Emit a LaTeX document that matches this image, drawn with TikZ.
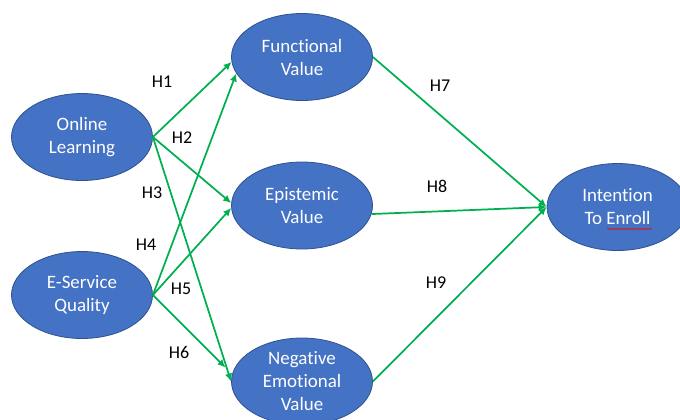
\documentclass[tikz,border=0pt]{standalone}
\usepackage{fontspec}
\setmainfont{Carlito}[Ligatures=NoCommon]
\usetikzlibrary{shapes.geometric,arrows.meta,decorations.pathmorphing}
\definecolor{ovalblue}{HTML}{4472C4}
\definecolor{ovalline}{HTML}{2F528F}
\definecolor{pathgreen}{HTML}{00B050}
\tikzset{
  construct/.style={ellipse, fill=ovalblue, draw=ovalline, line width=0.6pt,
    minimum width=105.75pt, minimum height=65.25pt, inner sep=0pt,
    text=white, align=center, font=\fontsize{14.2}{17.25}\selectfont},
  hyp/.style={pathgreen, line width=1.3pt, -{Latex[length=6pt,width=5.5pt]}},
  hlabel/.style={font=\fontsize{13.5}{16}\selectfont, inner sep=0pt}
}
\begin{document}
\begin{tikzpicture}[x=0.75pt, y=-0.75pt]
\useasboundingbox (0,0) rectangle (680,419);
\clip (0,0) rectangle (680,419);
% constructs
\node[construct] (ol) at (82,137) {Online\\Learning};
\node[construct] (esq) at (82,295) {E-Service\\Quality};
\node[construct] (fv) at (302,57) {Functional\\Value};
\node[construct] (ev) at (302,205.5) {Epistemic\\Value};
\node[construct, inner ysep=-12pt] (nev) at (302,381.5) {Negative\\Emotional\\Value};
\node[construct] (ite) at (617.5,207) {Intention\\To Enroll};
% spell-check squiggle
\draw[red, line width=0.4pt, decorate, decoration={snake, amplitude=0.5pt, segment length=2pt}]
  (607,229) -- (652,229);
% paths
\draw[hyp] (ol.east) -- (fv.184);
\draw[hyp] (ol.east) -- (ev.178);
\draw[hyp] (ol.east) -- (nev.west);
\draw[hyp] (esq.east) -- (fv.194);
\draw[hyp] (esq.east) -- (ev.182);
\draw[hyp, shorten >=7pt] (esq.east) -- (nev.174);
\draw[hyp] (fv.east) -- (ite.west);
\draw[hyp] (ev.353) -- (ite.west);
\draw[hyp] (nev.east) -- (ite.west);
% hypotheses
\node[hlabel] (h1) at (162,82) {H1};
\node[hlabel] (h2) at (182,138) {H2};
\node[hlabel] (h3) at (152,193) {H3};
\node[hlabel] (h4) at (146,245) {H4};
\node[hlabel] (h5) at (181,289) {H5};
\node[hlabel] (h6) at (179,352) {H6};
\node[hlabel] (h7) at (440,86) {H7};
\node[hlabel] (h8) at (437,186) {H8};
\node[hlabel] (h9) at (436,283) {H9};
\end{tikzpicture}
\end{document}
